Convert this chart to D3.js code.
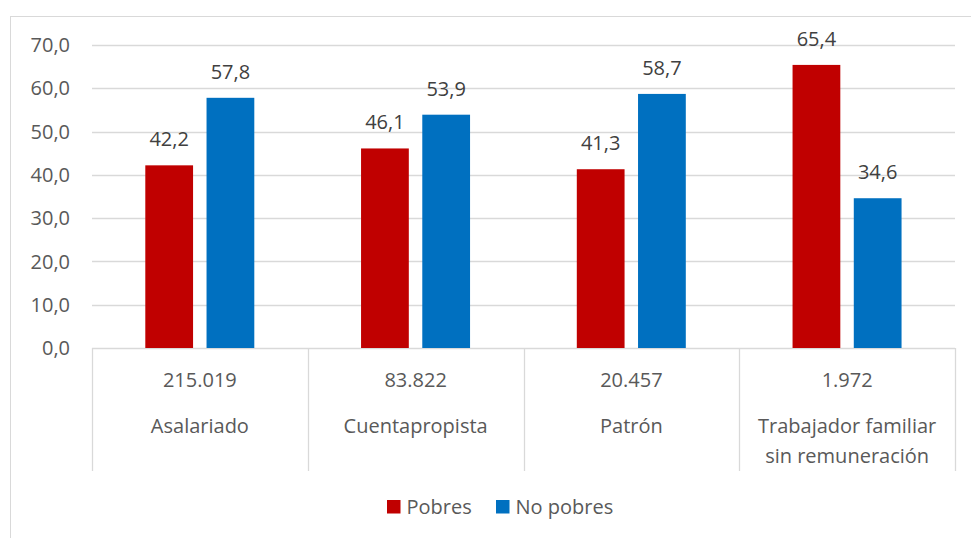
<!DOCTYPE html>
<html>
<head>
<meta charset="utf-8">
<script src="https://cdn.jsdelivr.net/npm/d3@7"></script>
<style>
  body { margin: 0; background: #fff; }
  svg { display: block; font-family: "Open Sans", sans-serif; }
</style>
</head>
<body>
<svg id="chart" width="971" height="538"></svg>
<script>
// chart data
const categories = ["Asalariado", "Cuentapropista", "Patrón", "Trabajador familiar sin remuneración"];
const categoryLines = [["Asalariado"], ["Cuentapropista"], ["Patrón"], ["Trabajador familiar", "sin remuneración"]];
const totals = ["215.019", "83.822", "20.457", "1.972"];
const seriesNames = ["Pobres", "No pobres"];
const pobres = [42.2, 46.1, 41.3, 65.4];
const noPobres = [57.8, 53.9, 58.7, 34.6];
const yTicks = [0, 10, 20, 30, 40, 50, 60, 70];

const colors = { "Pobres": "#c00000", "No pobres": "#0070c0" };
const values = { "Pobres": pobres, "No pobres": noPobres };

const svg = d3.select("#chart");
const plot = { left: 92, right: 955, top: 45, bottom: 348 };
const fmt = v => d3.format(".1f")(v).replace(".", ",");

// outer chart border (runs off the right and bottom of the frame)
svg.append("rect")
  .attr("x", 10.5).attr("y", 16.5)
  .attr("width", 1000).attr("height", 600)
  .attr("fill", "none")
  .attr("stroke", "#d9d9d9");

const x = d3.scaleBand()
  .domain(categories)
  .range([plot.left, plot.right]);

const xSub = d3.scaleBand()
  .domain(seriesNames)
  .range([53.3, 162.3])
  .paddingInner(0.22);

const y = d3.scaleLinear()
  .domain([0, 70])
  .range([plot.bottom, plot.top]);

// gridlines
svg.append("g")
  .selectAll("line")
  .data(yTicks)
  .join("line")
  .attr("x1", plot.left).attr("x2", plot.right)
  .attr("y1", d => Math.round(y(d)) + 0.5)
  .attr("y2", d => Math.round(y(d)) + 0.5)
  .attr("stroke", "#d9d9d9")
  .attr("stroke-width", 1.3);

// y tick labels
svg.append("g")
  .selectAll("text")
  .data(yTicks)
  .join("text")
  .attr("x", 70)
  .attr("y", d => y(d))
  .attr("dy", "0.36em")
  .attr("text-anchor", "end")
  .attr("fill", "#595959")
  .style("font-size", "20px")
  .text(d => fmt(d));

// category table lines
const tableBottom = 471;
svg.append("g")
  .selectAll("line")
  .data(categories.map(c => x(c)).concat([plot.right]))
  .join("line")
  .attr("x1", d => Math.round(d) + 0.5).attr("x2", d => Math.round(d) + 0.5)
  .attr("y1", plot.bottom).attr("y2", tableBottom)
  .attr("stroke", "#d9d9d9")
  .attr("stroke-width", 1.3);

// bars
const groups = svg.append("g")
  .selectAll("g")
  .data(categories)
  .join("g")
  .attr("transform", d => `translate(${x(d)},0)`);

groups.selectAll("rect")
  .data((d, i) => seriesNames.map(s => ({ s, v: values[s][i] })))
  .join("rect")
  .attr("x", d => xSub(d.s))
  .attr("width", xSub.bandwidth())
  .attr("y", d => y(d.v))
  .attr("height", d => y(0) - y(d.v))
  .attr("fill", d => colors[d.s]);

// data labels
groups.selectAll("text")
  .data((d, i) => seriesNames.map(s => ({ s, v: values[s][i] })))
  .join("text")
  .attr("x", d => xSub(d.s) + xSub.bandwidth() / 2)
  .attr("y", d => y(d.v) - 19)
  .attr("text-anchor", "middle")
  .attr("fill", "#404040")
  .style("font-size", "20px")
  .text(d => fmt(d.v));

// category labels: total row + name
const cx = c => x(c) + x.bandwidth() / 2;
svg.append("g")
  .selectAll("text")
  .data(categories)
  .join("text")
  .attr("x", cx)
  .attr("y", 387)
  .attr("text-anchor", "middle")
  .attr("fill", "#595959")
  .style("font-size", "20px")
  .text((d, i) => totals[i]);

svg.append("g")
  .selectAll("text")
  .data(categories)
  .join("text")
  .attr("x", cx)
  .attr("y", 433)
  .attr("text-anchor", "middle")
  .attr("fill", "#595959")
  .style("font-size", "20px")
  .each(function (d, i) {
    d3.select(this).selectAll("tspan")
      .data(categoryLines[i])
      .join("tspan")
      .attr("x", cx(d))
      .attr("dy", (l, j) => j === 0 ? 0 : 30)
      .text(l => l);
  });

// legend
const legend = svg.append("g").attr("transform", "translate(387,500)");
const legendX = { "Pobres": 0, "No pobres": 109 };
const item = legend.selectAll("g")
  .data(seriesNames)
  .join("g")
  .attr("transform", d => `translate(${legendX[d]},0)`);
item.append("rect")
  .attr("width", 13.5).attr("height", 13.5)
  .attr("fill", d => colors[d]);
item.append("text")
  .attr("x", 19.5)
  .attr("y", 13.5)
  .attr("fill", "#595959")
  .style("font-size", "20px")
  .text(d => d);
</script>
</body>
</html>
